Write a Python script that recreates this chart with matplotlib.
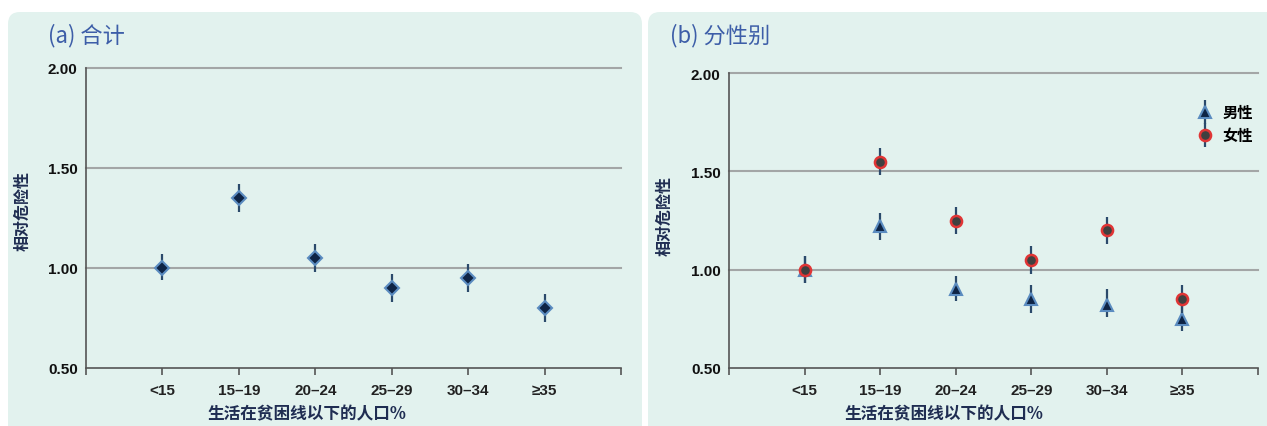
import matplotlib
matplotlib.use('Agg')
import matplotlib.pyplot as plt
from matplotlib.patches import FancyBboxPatch
from matplotlib.transforms import IdentityTransform
from matplotlib.legend_handler import HandlerErrorbar
from matplotlib.container import ErrorbarContainer

# data
categories = ['<15', '15–19', '20–24', '25–29', '30–34', '≥35']
total_rr = [1.00, 1.35, 1.05, 0.90, 0.95, 0.80]
total_lo = [0.94, 1.28, 0.98, 0.83, 0.88, 0.73]
total_hi = [1.07, 1.42, 1.12, 0.97, 1.02, 0.87]

male_rr = [1.00, 1.22, 0.90, 0.85, 0.82, 0.75]
male_lo = [0.93, 1.15, 0.84, 0.78, 0.76, 0.69]
male_hi = [1.07, 1.29, 0.97, 0.92, 0.90, 0.82]

female_rr = [1.00, 1.55, 1.25, 1.05, 1.20, 0.85]
female_lo = [0.93, 1.48, 1.18, 0.98, 1.13, 0.78]
female_hi = [1.07, 1.62, 1.32, 1.12, 1.27, 0.92]

yticks = [0.50, 1.00, 1.50, 2.00]

cjk = ['Noto Sans CJK SC', 'DejaVu Sans']
num_font = ['Liberation Sans', 'DejaVu Sans']
panel_bg = '#e2f2ee'
bar_col = '#2b4a6b'
navy = '#1f2d52'

fig = plt.figure(figsize=(12.67, 4.27), dpi=100)

# rounded panel backgrounds (pixel coords, origin bottom-left)
for x0, x1 in [(8, 642), (648, 1280)]:
    p = FancyBboxPatch((x0, -20), x1 - x0, 427 - 13 + 20,
                       boxstyle='round,pad=0,rounding_size=12',
                       transform=IdentityTransform(), facecolor=panel_bg,
                       edgecolor='none', zorder=-10)
    fig.patches.append(p)


def err(vals, lo, hi):
    return [[v - l for v, l in zip(vals, lo)], [h - v for v, h in zip(vals, hi)]]


def style_axes(ax, title, tx):
    ax.set_facecolor('none')
    ax.set_xlim(-1, 6)
    ax.set_ylim(0.5, 2.0)
    ax.set_yticks(yticks)
    ax.set_yticklabels(['%.2f' % t for t in yticks], fontfamily=num_font,
                       fontweight='bold', fontsize=11, color='#111111')
    ax.set_xticks(range(-1, 7))
    ax.set_xticklabels([''] + categories + [''], fontfamily=num_font,
                       fontweight='bold', fontsize=11, color='#222222')
    ax.tick_params(axis='y', length=0, pad=6)
    ax.tick_params(axis='x', length=5, width=1.2, color='#555555', pad=6)
    for s in ['top', 'right']:
        ax.spines[s].set_visible(False)
    for s in ['left', 'bottom']:
        ax.spines[s].set_color('#555555')
        ax.spines[s].set_linewidth(1.2)
    for t in [1.0, 1.5, 2.0]:
        ax.axhline(t, color='#a3a6a6', lw=1.5, zorder=1, clip_on=False)
    ax.set_xlabel('生活在贫困线以下的人口%', fontfamily=cjk, fontweight='bold',
                  fontsize=12, color=navy)
    ax.set_ylabel('相对危险性', fontfamily=cjk, fontweight='bold',
                  fontsize=11.5, color=navy)
    fig.text(tx, 1 - 36 / 427, title, fontfamily=cjk, fontsize=16,
             color='#3d5ea8', va='center', ha='left')


x = list(range(len(categories)))

# (a) total
ax1 = fig.add_axes([86 / 1267, 1 - 369 / 427, 535 / 1267, 300 / 427])
style_axes(ax1, '(a) 合计', 48 / 1267)
ax1.errorbar(x, total_rr, yerr=err(total_rr, total_lo, total_hi), fmt='D',
             ms=7.5, mfc='#0e2445', mec='#5b8cc0', mew=1.5, ecolor=bar_col,
             elinewidth=1.6, capsize=0, zorder=3)
ax1.xaxis.set_label_coords(0.413, -0.12)
ax1.yaxis.set_label_coords(-0.103, 0.527)

# (b) by sex
ax2 = fig.add_axes([729 / 1267, 1 - 369 / 427, 529 / 1267, 295 / 427])
style_axes(ax2, '(b) 分性别', 670 / 1267)
ax2.errorbar(x, male_rr, yerr=err(male_rr, male_lo, male_hi), fmt='^',
             ms=9, mfc='#0e2445', mec='#5b8cc0', mew=1.5, ecolor=bar_col,
             elinewidth=1.6, capsize=0, zorder=3, label='男性')
ax2.errorbar(x, female_rr, yerr=err(female_rr, female_lo, female_hi), fmt='o',
             ms=8, mfc='#404040', mec='#e03535', mew=1.8, ecolor=bar_col,
             elinewidth=1.6, capsize=0, zorder=4, label='女性')
ax2.xaxis.set_label_coords(0.406, -0.122)
ax2.yaxis.set_label_coords(-0.106, 0.519)
leg = ax2.legend(loc='upper right', bbox_to_anchor=(1.016, 0.94), frameon=False,
                 prop={'family': cjk, 'weight': 'bold', 'size': 11},
                 handlelength=1.0, handletextpad=0.6, labelspacing=0.45,
                 handler_map={ErrorbarContainer: HandlerErrorbar(yerr_size=0.8)})

fig.savefig('out.png', dpi=100, facecolor='white')
